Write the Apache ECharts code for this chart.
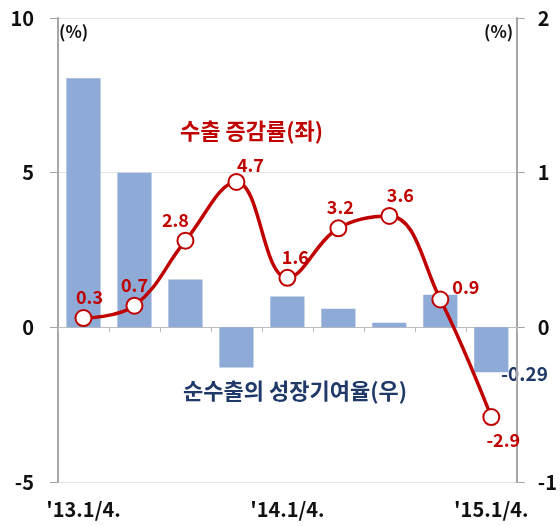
<!DOCTYPE html>
<html>
<head>
<meta charset="utf-8">
<script src="https://cdn.jsdelivr.net/npm/echarts@6/dist/echarts.min.js"></script>
<style>
  html, body { margin: 0; padding: 0; background: #fff; }
  #chart { width: 560px; height: 526px; }
</style>
</head>
<body>
<div id="chart"></div>
<script>
// 분기
var quarters = ["'13.1/4.", "'13.2/4.", "'13.3/4.", "'13.4/4.", "'14.1/4.", "'14.2/4.", "'14.3/4.", "'14.4/4.", "'15.1/4."];
// 수출 증감률 (좌, %)
var exportGrowth = [0.3, 0.7, 2.8, 4.7, 1.6, 3.2, 3.6, 0.9, -2.9];
// 순수출의 성장기여율 (우, %)
var netExportContrib = [1.61, 1.0, 0.31, -0.26, 0.2, 0.12, 0.03, 0.21, -0.29];
var leftTicks = [-5, 10, 5];   // min, max, interval
var rightTicks = [-1, 2, 1];

var RED = '#C00000';
var NAVY = '#1F3A68';
var FONT = '"Noto Sans CJK KR", "Noto Sans", sans-serif';

// 라벨 위치 (점마다)
var labelPos = [
  { position: 'top', offset: [6, 2] },
  { position: 'top', offset: [0, 2] },
  { position: 'top', offset: [-10, 2] },
  { position: 'top', offset: [14, 6] },
  { position: 'top', offset: [8, 2] },
  { position: 'top', offset: [2, 2] },
  { position: 'top', offset: [11, 2] },
  { position: 'right', offset: [-2, -12] },
  { position: 'bottom', offset: [12, 0] }
];

var lineData = exportGrowth.map(function (v, i) {
  return { value: v, label: labelPos[i] };
});

var chart = echarts.init(document.getElementById('chart'));
chart.setOption({
  animation: false,
  grid: { left: 58, right: 43, top: 18, bottom: 44 },
  xAxis: [
    {
      type: 'category',
      data: quarters,
      axisLine: { onZero: true, lineStyle: { color: '#BDBDBD', width: 1 } },
      axisTick: { show: true, length: 5, lineStyle: { color: '#BDBDBD' } },
      axisLabel: { show: false }
    },
    {
      type: 'category',
      data: quarters,
      position: 'bottom',
      axisLine: { show: false, onZero: false },
      axisTick: { show: false },
      axisLabel: {
        interval: 3, margin: 17, color: '#111',
        fontFamily: FONT, fontWeight: 'bold', fontSize: 20
      }
    }
  ],
  yAxis: [
    {
      type: 'value',
      min: leftTicks[0], max: leftTicks[1], interval: leftTicks[2],
      axisLine: { show: true, lineStyle: { color: '#A6A6A6', width: 2 } },
      axisTick: { show: true, length: 8, lineStyle: { color: '#A6A6A6' } },
      splitLine: { lineStyle: { color: '#E3E3E3' } },
      axisLabel: { margin: 24, color: '#111', fontFamily: FONT, fontWeight: 'bold', fontSize: 20 }
    },
    {
      type: 'value',
      min: rightTicks[0], max: rightTicks[1], interval: rightTicks[2],
      axisLine: { show: true, lineStyle: { color: '#A6A6A6', width: 2 } },
      axisTick: { show: true, length: 8, lineStyle: { color: '#A6A6A6' } },
      splitLine: { show: false },
      axisLabel: { margin: 21, color: '#111', fontFamily: FONT, fontWeight: 'bold', fontSize: 20 }
    }
  ],
  series: [
    {
      type: 'bar',
      yAxisIndex: 1,
      data: netExportContrib,
      barWidth: '67%',
      itemStyle: { color: '#8EAAD6' }
    },
    {
      type: 'line',
      yAxisIndex: 0,
      data: lineData,
      smooth: 0.4,
      symbol: 'circle',
      symbolSize: 16,
      lineStyle: { color: RED, width: 3.5 },
      itemStyle: { color: '#fff', borderColor: RED, borderWidth: 2 },
      label: {
        show: true, color: RED, fontFamily: FONT, fontWeight: 'bold', fontSize: 18
      },
      z: 5
    }
  ],
  graphic: [
    { type: 'text', left: 59, top: 23, style: { text: '(%)', font: 'bold 17px ' + FONT, fill: '#111' } },
    { type: 'text', left: 484, top: 23, style: { text: '(%)', font: 'bold 17px ' + FONT, fill: '#111' } },
    { type: 'text', left: 180, top: 120, style: { text: '수출 증감률(좌)', font: 'bold 22px ' + FONT, fill: RED } },
    { type: 'text', left: 183, top: 380, style: { text: '순수출의 성장기여율(우)', font: 'bold 22px ' + FONT, fill: NAVY } },
    { type: 'text', left: 501, top: 364, style: { text: '-0.29', font: 'bold 19px ' + FONT, fill: NAVY } }
  ]
});
</script>
</body>
</html>
